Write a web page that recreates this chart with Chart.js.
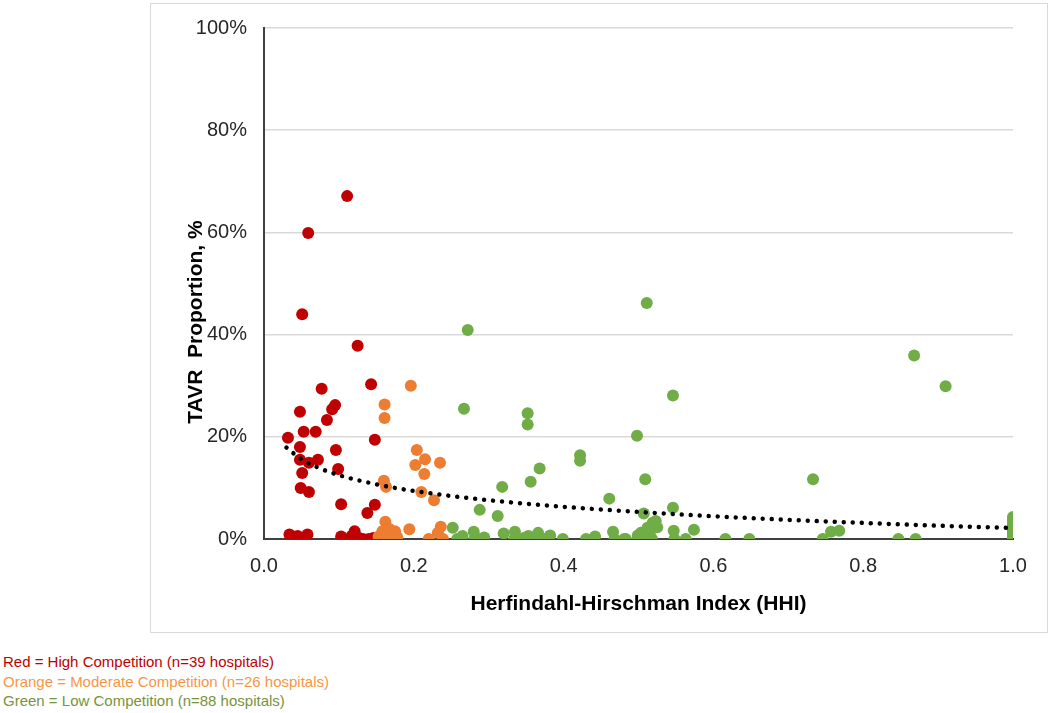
<!DOCTYPE html>
<html>
<head>
<meta charset="utf-8">
<script src="https://cdn.jsdelivr.net/npm/chart.js@4.4.0/dist/chart.umd.min.js"></script>
<style>
  body { margin: 0; background: #fff; width: 1050px; height: 713px; position: relative; overflow: hidden; }
  #box { position: absolute; left: 150px; top: 3px; width: 896px; height: 628px; border: 1px solid #d9d9d9; }
  #notes { position: absolute; left: 3px; top: 652px; font-family: "Liberation Sans", Arial, sans-serif; font-size: 15px; line-height: 19.5px; }
</style>
</head>
<body>
<div id="box"><canvas id="hhiChart" width="896" height="628"></canvas></div>
<div id="notes">
  <div style="color:#c00000">Red = High Competition (n=39 hospitals)</div>
  <div style="color:#f79646">Orange = Moderate Competition (n=26 hospitals)</div>
  <div style="color:#77933c">Green = Low Competition (n=88 hospitals)</div>
</div>
<script>
const xTickLabels = ['0.0', '0.2', '0.4', '0.6', '0.8', '1.0'];
const yTickLabels = ['0%', '20%', '40%', '60%', '80%', '100%'];

// high competition (red)
const redHHI = [0.111, 0.059, 0.051, 0.125, 0.077, 0.143, 0.091, 0.095, 0.048, 0.084, 0.053, 0.069, 0.032,
  0.148, 0.048, 0.096, 0.072, 0.060, 0.048, 0.099, 0.051, 0.049, 0.060, 0.103, 0.148, 0.138,
  0.034, 0.045, 0.051, 0.056, 0.058, 0.047, 0.103, 0.117, 0.121, 0.127, 0.132, 0.140, 0.146];
const redTAVR = [67.1, 59.9, 44.0, 37.8, 29.4, 30.3, 25.4, 26.2, 24.9, 23.3, 21.0, 21.0, 19.8,
  19.4, 18.0, 17.4, 15.5, 14.9, 15.5, 13.7, 12.9, 10.0, 9.2, 6.8, 6.7, 5.1,
  0.9, 0.6, 0.0, 0.3, 0.9, 0.0, 0.5, 0.6, 1.5, 0.2, 0.0, 0.0, 0.2];

// moderate competition (orange)
const orangeHHI = [0.196, 0.161, 0.161, 0.204, 0.215, 0.202, 0.235, 0.214, 0.160, 0.163, 0.210, 0.227, 0.162,
  0.194, 0.236, 0.232, 0.220, 0.239, 0.153, 0.158, 0.163, 0.167, 0.170, 0.175, 0.178, 0.160];
const orangeTAVR = [30.0, 26.3, 23.7, 17.4, 15.6, 14.5, 14.9, 12.7, 11.4, 10.2, 9.2, 7.6, 3.4,
  1.9, 2.4, 1.2, 0.0, 0.0, 0.5, 1.5, 0.0, 2.0, 0.8, 1.5, 0.3, 0.8];

// low competition (green)
const greenHHI = [0.272, 0.267, 0.352, 0.352, 0.498, 0.422, 0.422, 0.368, 0.356, 0.318, 0.461, 0.288, 0.312,
  0.252, 0.265, 0.280, 0.281, 0.290, 0.320, 0.335, 0.334, 0.353, 0.366, 0.361, 0.382, 0.399, 0.430,
  0.442, 0.466, 0.468, 0.481, 0.499, 0.511, 0.546, 0.509, 0.733, 0.546, 0.507, 0.519, 0.525, 0.512,
  0.503, 0.547, 0.574, 0.483, 0.499, 0.510, 0.518, 0.548, 0.563, 0.616, 0.648, 0.868, 0.910, 0.757,
  0.768, 0.746, 0.847, 0.870, 0.347, 0.294, 0.505, 0.515, 0.523, 0.258, 0.375,
  1.0, 1.0, 1.0, 1.0, 1.0, 1.0, 1.0, 1.0, 1.0, 1.0, 1.0, 1.0, 1.0, 1.0, 1.0, 1.0, 1.0, 1.0, 1.0, 1.0, 1.0, 1.0];
const greenTAVR = [40.9, 25.5, 24.6, 22.4, 20.2, 16.4, 15.3, 13.8, 11.2, 10.2, 7.9, 5.7, 4.5,
  2.2, 0.6, 1.4, 0.0, 0.0, 1.1, 1.4, 0.0, 0.6, 1.2, 0.0, 0.7, 0.0, 0.0,
  0.5, 1.4, 0.0, 0.0, 0.7, 46.2, 28.1, 11.7, 11.7, 6.1, 5.0, 3.2, 2.3, 2.2,
  1.2, 1.6, 1.8, 0.0, 0.0, 0.0, 0.0, 0.0, 0.0, 0.0, 0.0, 35.9, 29.9, 1.4,
  1.6, 0.0, 0.0, 0.0, 0.2, 0.3, 0.3, 1.0, 3.5, 0.0, 0.0,
  4.3, 3.8, 3.3, 2.8, 2.3, 1.9, 1.5, 1.2, 0.8, 0.5, 0.3, 0.1, 0, 0, 0, 0, 0, 0, 0, 0, 0, 0];

// dotted trend line
const trendHHI = [0.03, 0.05, 0.075, 0.1, 0.15, 0.2, 0.3, 0.4, 0.5, 0.6, 0.7, 0.8, 0.9, 1.0];
const trendTAVR = [17.9, 15.6, 13.8, 12.5, 10.7, 9.4, 7.6, 6.3, 5.3, 4.45, 3.75, 3.15, 2.6, 2.15];

const pts = (xs, ys) => xs.map((x, i) => ({ x: x, y: ys[i] }));
const font = 'Liberation Sans';

// y title drawn by hand, left of the tick labels
const yTitle = {
  id: 'yTitle',
  afterDraw(chart) {
    const c = chart.ctx;
    c.save();
    c.translate(45, 318);
    c.rotate(-Math.PI / 2);
    c.font = 'bold 21px "Liberation Sans"';
    c.fillStyle = '#000';
    c.textAlign = 'center';
    c.textBaseline = 'middle';
    c.fillText('TAVR  Proportion, %', 0, 0);
    c.restore();
  }
};

const ctx = document.getElementById('hhiChart').getContext('2d');
const hhiChart = new Chart(ctx, {
  type: 'scatter',
  data: {
    datasets: [
      {
        type: 'line',
        label: 'Trend',
        data: pts(trendHHI, trendTAVR),
        borderColor: '#000',
        borderWidth: 4.5,
        borderCapStyle: 'round',
        borderDash: [0.01, 9],
        pointRadius: 0,
        cubicInterpolationMode: 'monotone',
        fill: false,
        order: 0
      },
      { label: 'Green', data: pts(greenHHI, greenTAVR), backgroundColor: '#70ad47', borderWidth: 0, pointRadius: 6, order: 1 },
      { label: 'Orange', data: pts(orangeHHI, orangeTAVR), backgroundColor: '#ed7d31', borderWidth: 0, pointRadius: 6, order: 2 },
      { label: 'Red', data: pts(redHHI, redTAVR), backgroundColor: '#c00000', borderWidth: 0, pointRadius: 6, order: 3 }
    ]
  },
  options: {
    responsive: false,
    animation: false,
    layout: { padding: { top: 24, right: 34, left: 0, bottom: 11 } },
    plugins: { legend: { display: false }, tooltip: { enabled: false } },
    scales: {
      x: {
        type: 'linear', min: 0, max: 1,
        afterFit: s => { s.height = 82; },
        grid: { display: false, drawTicks: false },
        border: { display: true, color: '#404040', width: 2 },
        ticks: {
          stepSize: 0.2, padding: 15, color: '#262626',
          font: { family: font, size: 20 },
          callback: (v, i) => xTickLabels[i]
        },
        title: {
          display: true, text: 'Herfindahl-Hirschman Index (HHI)', color: '#000',
          font: { family: font, size: 21, weight: 'bold' }, padding: { top: 8, bottom: 4 }
        }
      },
      y: {
        min: 0, max: 100,
        afterFit: s => { s.width = 113; s.paddingTop = 0; s.paddingBottom = 0; },
        grid: { color: '#d9d9d9', lineWidth: 1.5, drawTicks: false },
        border: { display: true, color: '#404040', width: 2 },
        ticks: {
          stepSize: 20, padding: 17, color: '#262626',
          font: { family: font, size: 20 },
          callback: (v, i) => yTickLabels[i]
        }
      }
    }
  },
  plugins: [yTitle]
});
</script>
</body>
</html>
